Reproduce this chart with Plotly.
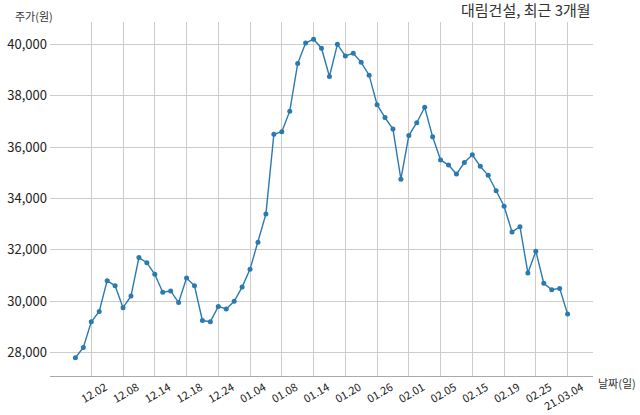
import plotly.graph_objects as go

# trading days, 2020-11-30 .. 2021-03-04
dates = [
    "20.11.30", "20.12.01", "20.12.02", "20.12.03", "20.12.04", "20.12.07", "20.12.08",
    "20.12.09", "20.12.10", "20.12.11", "20.12.14", "20.12.15", "20.12.16", "20.12.17",
    "20.12.18", "20.12.21", "20.12.22", "20.12.23", "20.12.24", "20.12.28", "20.12.29",
    "20.12.30", "21.01.04", "21.01.05", "21.01.06", "21.01.07", "21.01.08", "21.01.11",
    "21.01.12", "21.01.13", "21.01.14", "21.01.15", "21.01.18", "21.01.19", "21.01.20",
    "21.01.21", "21.01.22", "21.01.25", "21.01.26", "21.01.27", "21.01.28", "21.01.29",
    "21.02.01", "21.02.02", "21.02.03", "21.02.04", "21.02.05", "21.02.08", "21.02.09",
    "21.02.10", "21.02.15", "21.02.16", "21.02.17", "21.02.18", "21.02.19", "21.02.22",
    "21.02.23", "21.02.24", "21.02.25", "21.02.26", "21.03.02", "21.03.03", "21.03.04",
]
prices = [
    27800, 28200, 29200, 29600, 30800, 30600, 29750, 30200, 31700, 31500,
    31050, 30350, 30400, 29950, 30900, 30600, 29250, 29200, 29800, 29700,
    30000, 30550, 31250, 32300, 33400, 36500, 36600, 37400, 39250, 40050,
    40200, 39850, 38750, 40000, 39550, 39650, 39300, 38800, 37650, 37150,
    36700, 34750, 36450, 36950, 37550, 36400, 35500, 35300, 34950, 35400,
    35700, 35250, 34900, 34300, 33700, 32700, 32900, 31100, 31950, 30700,
    30450, 30500, 29500,
]
tick_dates = dates[2::4]
tick_text = [d[3:] for d in tick_dates[:-1]] + [tick_dates[-1]]
y_ticks = list(range(28000, 40001, 2000))

FONT = "Noto Sans CJK KR, Malgun Gothic, sans-serif"
GRID = "#cccccc"

fig = go.Figure()
fig.add_trace(go.Scatter(
    x=dates, y=prices, mode="lines+markers",
    line=dict(color="#2a7ab0", width=1.4),
    marker=dict(color="#2a7ab0", size=5),
    hoverinfo="x+y",
))

fig.update_layout(
    width=640, height=415,
    margin=dict(l=50, r=47, t=22, b=39),
    plot_bgcolor="white", paper_bgcolor="white",
    font=dict(family=FONT, size=12, color="#222222"),
    showlegend=False,
    xaxis=dict(
        type="category", range=[-3.2, 65.2],
        tickmode="array", tickvals=tick_dates, ticktext=tick_text,
        tickangle=-30, tickfont=dict(size=11), ticklabelshift=14,
        showgrid=True, gridcolor=GRID, gridwidth=1,
        showline=True, linecolor="#aaaaaa", linewidth=1,
        ticks="", zeroline=False, automargin=False,
    ),
    yaxis=dict(
        range=[27090, 40870],
        tickmode="array", tickvals=y_ticks,
        tickformat=",d", tickfont=dict(size=13), ticklabelstandoff=2,
        showgrid=True, gridcolor=GRID, gridwidth=1,
        showline=False, ticks="", zeroline=False, automargin=False,
    ),
    annotations=[
        dict(text="주가(원)", xref="paper", yref="paper", x=-0.068, y=1.0,
             xanchor="left", yanchor="bottom", yshift=-4, showarrow=False,
             font=dict(size=11, color="#333333")),
        dict(text="대림건설, 최근 3개월", xref="paper", yref="paper", x=1.0, y=1.0,
             xanchor="right", yanchor="bottom", showarrow=False,
             font=dict(size=15, color="#333333")),
        dict(text="날짜(일)", xref="paper", yref="paper", x=1.005, y=-0.02,
             xanchor="left", yanchor="middle", showarrow=False,
             font=dict(size=11, color="#333333")),
    ],
)

# drop the default body margin so the figure sits at the window's corner
fig.write_html("out.html", config={"displayModeBar": False},
               post_script="document.body.style.margin='0';")
